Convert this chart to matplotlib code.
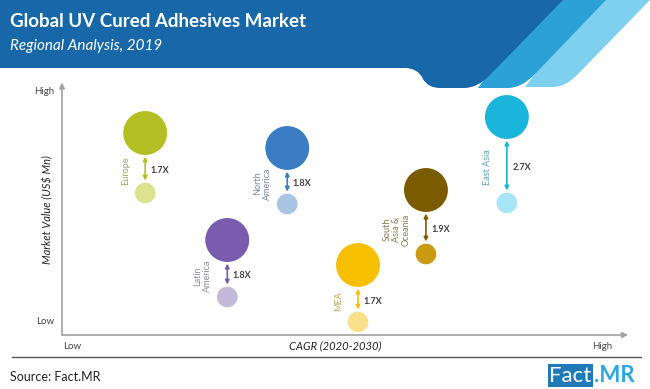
import matplotlib
matplotlib.use("Agg")
import matplotlib.pyplot as plt
from matplotlib.path import Path
from matplotlib.patches import PathPatch, Rectangle

plt.rcParams['font.family'] = ['Lato', 'DejaVu Sans']

# regions, position on CAGR axis (0-100) and market value now / in 2030 (0-100)
regions = ['Europe', 'North\nAmerica', 'Latin\nAmerica', 'MEA', 'South\nAsia &\nOceania', 'East Asia']
cagr = [14.7, 39.8, 29.2, 52.3, 64.3, 78.6]
value_2030 = [80.8, 74.8, 38.0, 28.0, 58.0, 87.2]
value_2019 = [56.8, 52.4, 15.2, 5.2, 32.4, 52.8]
growth = ['1.7X', '1.8X', '1.8X', '1.7X', '1.9X', '2.7X']

big_colors = ['#b3bf23', '#3b7dc4', '#7a5cae', '#f6c000', '#7b5b00', '#19b5da']
small_colors = ['#dce28e', '#a9c4e4', '#c4b8db', '#fbe08c', '#c99a12', '#a8e5f6']
label_colors = ['#9aa35a', '#7688a4', '#918aa6', '#c4a656', '#8c7a50', '#5aa6ba']

fig = plt.figure(figsize=(6.5, 3.89), dpi=100)

# background / header layer in pixel coordinates
bg = fig.add_axes([0, 0, 1, 1])
bg.set_xlim(0, 650)
bg.set_ylim(389, 0)
bg.axis('off')

L, C, Z = Path.LINETO, Path.CURVE3, Path.CLOSEPOLY
light = Path([(590, 0), (650, 0), (578, 74), (566, 87), (553, 87), (525, 87), (590, 0), (590, 0)],
             [Path.MOVETO, L, L, C, C, L, L, Z])
medium = Path([(540, 0), (606, 0), (535, 74), (522, 88), (508, 88), (478, 88), (540, 0), (540, 0)],
              [Path.MOVETO, L, L, C, C, L, L, Z])
dark = Path([(0, 0), (563, 0), (490, 75), (478, 88), (464, 88), (440, 88), (428, 88), (423, 79),
             (418, 68), (405, 68), (0, 68), (0, 0)],
            [Path.MOVETO, L, L, C, C, L, C, C, C, C, L, Z])
bg.add_patch(PathPatch(light, facecolor='#7fcfee', edgecolor='none'))
bg.add_patch(PathPatch(medium, facecolor='#2ba1d8', edgecolor='none'))
bg.add_patch(PathPatch(dark, facecolor='#1867a8', edgecolor='none'))

bg.text(10, 21, 'Global UV Cured Adhesives Market', color='white', fontsize=13.5,
        fontweight='bold', va='center', ha='left')
bg.text(10, 46, 'Regional Analysis, 2019', color='white', fontsize=11,
        style='italic', va='center', ha='left')

bg.plot([12, 641], [357, 357], color='#555555', lw=1)
bg.text(10, 377, 'Source: Fact.MR', fontsize=9, color='#222222', va='center', ha='left')
bg.add_patch(Rectangle((548, 364), 45, 23, facecolor='#1f7ab8', edgecolor='none'))
bg.text(570, 376, 'Fact', color='white', fontsize=16, va='center', ha='center')
bg.text(594, 376, '.MR', color='#2aa8e0', fontsize=16, fontweight='bold', va='center', ha='left')

# chart area
ax = fig.add_axes([62 / 650, (389 - 335) / 389, 566 / 650, 250 / 389])
ax.set_xlim(0, 100)
ax.set_ylim(0, 100)
ax.patch.set_alpha(0)
for s in ax.spines.values():
    s.set_visible(False)
ax.set_xticks([])
ax.set_yticks([])

ax.annotate('', xy=(0, 1.01), xytext=(0, 0), xycoords='axes fraction',
            arrowprops=dict(arrowstyle='-|>', color='#a0a0a0', lw=1.2, mutation_scale=8,
                            shrinkA=0, shrinkB=0))
ax.annotate('', xy=(1.0, 0), xytext=(0, 0), xycoords='axes fraction',
            arrowprops=dict(arrowstyle='-|>', color='#a0a0a0', lw=1.2, mutation_scale=8,
                            shrinkA=0, shrinkB=0))

ax.text(-0.013, 0.976, 'High', transform=ax.transAxes, fontsize=7, color='#444444', ha='right', va='center')
ax.text(-0.013, 0.052, 'Low', transform=ax.transAxes, fontsize=7, color='#444444', ha='right', va='center')
ax.text(0.018, -0.045, 'Low', transform=ax.transAxes, fontsize=7, color='#444444', ha='center', va='center')
ax.text(0.955, -0.045, 'High', transform=ax.transAxes, fontsize=7, color='#444444', ha='center', va='center')
ax.text(0.482, -0.045, 'CAGR (2020-2030)', transform=ax.transAxes, fontsize=8, style='italic',
        color='#222222', ha='center', va='center')
ax.text(-0.025, 0.5, 'Market Value (US$ Mn)', transform=ax.transAxes, fontsize=8, style='italic',
        color='#222222', ha='center', va='center', rotation=90)

ax.scatter(cagr, value_2030, s=1000, c=big_colors, edgecolors='none', zorder=3)
ax.scatter(cagr, value_2019, s=220, c=small_colors, edgecolors='none', zorder=3)

for i in range(len(regions)):
    x = cagr[i]
    ax.annotate('', xy=(x, value_2019[i]), xytext=(x, value_2030[i]),
                arrowprops=dict(arrowstyle='<|-|>', color=big_colors[i], lw=1.2,
                                mutation_scale=6, shrinkA=17, shrinkB=9))
    mid = (value_2030[i] - 11) * 0.5 + (value_2019[i] + 5) * 0.5
    ax.annotate(growth[i], xy=(x, mid), xytext=(4, 0), textcoords='offset points',
                fontsize=6.5, fontweight='bold', color='#404040', ha='left', va='center')
    ax.annotate(regions[i], xy=(x, mid), xytext=(-11, 0), textcoords='offset points',
                fontsize=6.5, color=label_colors[i], ha='right', va='center',
                rotation=90, multialignment='center', linespacing=1.1)

plt.savefig('out.png', dpi=100)
